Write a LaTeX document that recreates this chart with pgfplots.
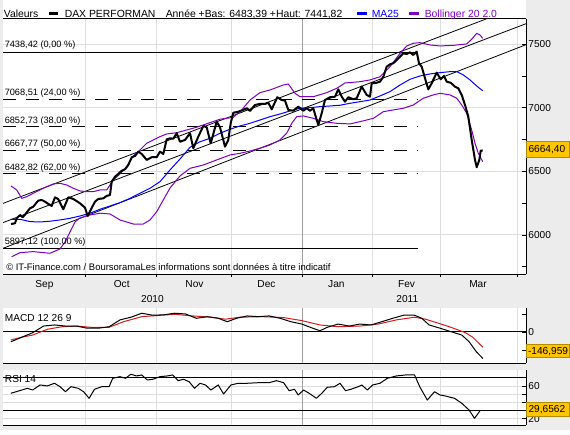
\documentclass[border=0pt]{standalone}
\usepackage{pgfplots}
\pgfplotsset{compat=1.18}
\usepackage{fontspec}
\setmainfont{Liberation Sans}
\definecolor{bg}{RGB}{236,236,236}
\definecolor{gridc}{RGB}{222,222,222}
\definecolor{yeargrid}{RGB}{160,160,160}
\definecolor{maBlue}{RGB}{0,0,255}
\definecolor{bolPurple}{RGB}{128,0,192}
\definecolor{sigRed}{RGB}{210,30,30}
\definecolor{boxYellow}{RGB}{255,198,0}
\newcommand{\fs}[1]{\fontsize{#1}{#1}\selectfont}
\pgfplotsset{
  panel/.style={
    scale only axis, width=392.25pt, xmin=3, xmax=526,
    anchor=south west,
    axis line style={draw=none},
    xtick={85.7,156,231,372,440,517}, xticklabels={},
    extra x ticks={302}, extra x tick labels={},
    extra x tick style={major grid style={yeargrid,line width=0.75pt}},
    xtick style={draw=none},
    xmajorgrids,
    grid style={gridc,line width=0.75pt},
    ytick pos=right, tick align=inside,
    major tick length=3pt, minor tick length=3pt,
    ytick style={black,line width=0.6pt},
    /pgf/number format/assume math mode=true,
    yticklabel style={font=\fs{7.6}, inner sep=0pt, xshift=1.6pt, /pgf/number format/1000 sep={}},
    every axis plot/.append style={line join=round},
  }
}
\begin{document}
\begin{tikzpicture}
\fill[bg] (0,0) rectangle (427.5pt,322.5pt);
\begin{scope}[x=0.75pt,y=-0.75pt,shift={(0pt,322.5pt)}]
  \fill[white] (3,0) rectangle (526,274);
  \fill[white] (3,308) rectangle (526,363);
  \fill[white] (3,370) rectangle (526,425);
\end{scope}

% ---------------- main price panel ----------------
\begin{axis}[panel, at={(2.25pt,117pt)}, height=191.25pt,
  ymin=5693, ymax=7698,
  ytick={6000,6500,7000,7500}, minor ytick={5750,6250,6750,7250},
  ymajorgrids]
% Fibonacci levels
\addplot[black, line width=0.75pt] coordinates {(3,7438.42) (418,7438.42)};
\addplot[black, line width=0.75pt, dash pattern=on 9.5pt off 7.75pt] coordinates {(3,7068.51) (418,7068.51)};
\addplot[black, line width=0.75pt, dash pattern=on 9.5pt off 7.75pt] coordinates {(3,6852.73) (418,6852.73)};
\addplot[black, line width=0.75pt, dash pattern=on 9.5pt off 7.75pt] coordinates {(3,6667.77) (418,6667.77)};
\addplot[black, line width=0.75pt, dash pattern=on 9.5pt off 7.75pt] coordinates {(3,6482.82) (418,6482.82)};
\addplot[black, line width=0.75pt] coordinates {(3,5897.12) (418,5897.12)};
% regression channel
\addplot[black, line width=0.6pt] coordinates {(3,6248) (527,7821)};
\addplot[black, line width=0.6pt] coordinates {(3,6097) (527,7664)};
\addplot[black, line width=0.6pt] coordinates {(3,5895) (527,7499)};
% Bollinger bands
\addplot[bolPurple, line width=0.75pt] coordinates {
(11,6385) (16.7,6354) (21.7,6288) (26.7,6301) (33.3,6328) (43.3,6367) (53.3,6401) (60,6406)
(66.7,6393) (73.3,6367) (80,6346) (86.7,6340) (93.3,6340) (100,6354) (106.7,6354) (113.3,6432)
(120,6480) (126.7,6537) (133.3,6621) (140,6668) (146.7,6721) (153.3,6747) (160,6773) (166.7,6794)
(176.7,6804) (196.7,6847) (220,6910) (233.3,6925) (241.7,6983) (250,7061) (260,7119) (270,7140)
(283.3,7179) (288.3,7187) (295,7114) (300,7087) (313.3,7087) (326.7,7119) (336.7,7153) (345,7195)
(360,7205) (370,7219) (380,7244) (390,7323) (400,7428) (406.7,7486) (413.3,7507) (420,7512)
(430,7494) (440,7486) (453.3,7491) (466.7,7502) (471.7,7539) (476.7,7586) (480,7572) (482.7,7546)};
\addplot[bolPurple, line width=0.75pt] coordinates {
(11.7,5829) (20,5861) (33.3,5869) (50,5856) (60,5890) (65,5945) (70,6024) (75,6102)
(80,6134) (90,6157) (100,6171) (110,6165) (120,6118) (133.3,6086) (143.3,6086) (150,6118)
(156.7,6183) (163.3,6275) (170,6369) (180,6464) (190,6524) (203.3,6550) (216.7,6590) (230,6629)
(240,6642) (250,6660) (260,6682) (270,6708) (280,6747) (286.7,6800) (291.7,6878) (296.7,6930)
(303.3,6936) (313.3,6917) (323.3,6891) (336.7,6878) (350,6873) (360,6891) (373.3,6917) (383.3,6969)
(393.3,6983) (403.3,6996) (413.3,7022) (423.3,7075) (433.3,7101) (440,7114) (450,7101) (456.7,7075)
(461.7,7022) (466.7,6957) (471.7,6825) (475,6721) (478.3,6642) (482.7,6576)};
% MA25
\addplot[maBlue, line width=0.75pt] coordinates {
(11,6123) (20,6123) (30,6105) (40,6102) (50,6108) (60,6118) (70,6131) (80,6149) (90,6171)
(100,6202) (110,6228) (120,6254) (130,6288) (140,6328) (150,6367) (160,6419) (170,6511)
(180,6597) (190,6689) (200,6733) (210,6760) (220,6800) (230,6831) (240,6857) (250,6878)
(260,6904) (270,6930) (280,6951) (290,6975) (300,6996) (310,7001) (320,7009) (330,7014)
(340,7020) (350,7035) (360,7048) (370,7061) (380,7093) (390,7127) (400,7179) (410,7224)
(420,7250) (430,7266) (440,7276) (450,7284) (456.7,7284) (463.3,7258) (470,7219) (476.7,7171)
(482.7,7134)};
% DAX close
\addplot[black, line width=1.5pt] coordinates {
(11,6086) (15,6092) (16.7,6131) (20,6157) (22.7,6139) (25,6160) (30,6210) (33.3,6222) (36,6249)
(38.3,6270) (41.7,6275) (45,6262) (48.3,6244) (51.7,6228) (55,6296) (58.3,6281) (63.3,6202)
(68.3,6296) (73.3,6283) (80,6249) (85,6215) (87.7,6149) (90.7,6197) (95,6262) (98.3,6283)
(103.3,6288) (106.7,6307) (110,6314) (111.7,6419) (115,6458) (118.3,6480) (121.7,6505)
(125,6516) (128.3,6550) (131.7,6611) (135,6621) (138.3,6655) (141.7,6637) (146.7,6590)
(151.7,6611) (156.7,6611) (160,6655) (163.3,6637) (166.7,6752) (170,6760) (173.3,6757)
(176.7,6800) (180,6733) (185,6747) (190,6800) (193.3,6682) (198.3,6773) (203.3,6857)
(206.7,6847) (210.7,6721) (216.7,6891) (220,6847) (225,6694) (228.3,6747) (230.7,6878)
(233.3,6961) (238.3,6969) (243.3,6983) (246.7,6996) (250,6975) (255,7022) (260,7030)
(265,7030) (268.3,7040) (271.7,6988) (277.3,7083) (281.7,7061) (285,7056) (288.3,6983)
(293.3,6977) (298.3,7009) (303.3,6977) (306.7,6996) (310,6977) (313.3,6996) (316.7,6904)
(318.3,6865) (321.7,6957) (325,7061) (330,7083) (335,7087) (338.3,7145) (341.7,7087)
(345,7048) (348.3,7083) (353.3,7067) (356.7,7075) (361.7,7166) (366.7,7101) (370,7087)
(371.7,7193) (375,7193) (380,7205) (383.3,7244) (386.7,7323) (390,7342) (393.3,7350)
(396.7,7376) (400,7402) (403.3,7428) (406.7,7423) (410,7436) (413.3,7415) (416.7,7441)
(419,7350) (421.7,7323) (425,7232) (428.3,7145) (431.7,7193) (436.7,7276) (440.7,7224)
(444,7250) (446.7,7205) (450.7,7197) (455,7166) (458.3,7153) (461.7,7101) (465,7022)
(468.3,6930) (471.7,6747) (475,6590) (476.7,6532) (479.3,6590) (480.7,6663) (482.7,6664.4)};
\end{axis}

% ---------------- MACD panel ----------------
\begin{axis}[panel, at={(2.25pt,50.25pt)}, height=41.25pt,
  ymin=-172, ymax=133,
  ytick={-100,0,100}, yticklabels={{},0,{}}]
\addplot[black, line width=0.75pt] coordinates {(3,0) (526,0)};
\addplot[sigRed, line width=0.75pt] coordinates {
(10.9,-44) (21.8,-29) (32.7,-17) (47.3,15) (61.8,29) (76.4,33) (90.9,26) (109.1,26) (123.6,57)
(141.8,85) (156.4,91) (174.5,98) (192.7,89) (210.9,82) (225.5,71) (240,82) (261.8,85) (283.6,80)
(301.8,63) (320,39) (338.2,29) (360,33) (378.2,44) (396.4,67) (414.5,82) (425.5,71) (436.4,52)
(450.9,26) (465.5,-4) (472.7,-29) (482.9,-85)};
\addplot[black, line width=0.75pt] coordinates {
(10.9,-54) (21.8,-29) (32.7,-4) (43.6,33) (54.5,39) (65.5,33) (76.4,33) (87.3,21) (98.2,21)
(109.1,29) (120,67) (130.9,82) (141.8,104) (152.7,93) (163.6,95) (174.5,104) (185.5,100)
(196.4,76) (207.3,85) (218.2,76) (227.3,57) (236.4,76) (247.3,89) (258.2,85) (269.1,89)
(280,76) (290.9,57) (301.8,44) (312.7,21) (320,7) (327.3,26) (338.2,44) (349.1,33) (360,44)
(370.9,39) (381.8,57) (392.7,76) (403.6,93) (414.5,93) (421.8,76) (429.1,39) (440,21)
(450.9,2) (461.8,-17) (469.1,-54) (476.4,-110) (482.9,-146.959)};
\end{axis}

% ---------------- RSI panel ----------------
\begin{axis}[panel, at={(2.25pt,3.75pt)}, height=41.25pt,
  ymin=12.2, ymax=79.8,
  ytick={20,60}, minor ytick={40,50},
  ymajorgrids, yminorgrids]
\addplot[black, line width=0.75pt] coordinates {(3,70) (526,70)};
\addplot[black, line width=0.75pt] coordinates {(3,30) (526,30)};
\addplot[black, line width=0.75pt] coordinates {
(10.9,51.2) (21.8,55.2) (27.3,57.3) (32.7,55.2) (40,61.4) (47.3,60.2) (54.5,63.5) (60,59.3)
(65.5,53.1) (70.9,59.3) (78.2,57.3) (83.6,53.1) (89.1,45.0) (94.5,56.1) (101.8,59.3)
(109.1,59.3) (112.7,69.6) (120,71.6) (125.5,69.6) (130.9,74.6) (136.4,72.5) (141.8,73.7)
(147.3,67.5) (152.7,68.4) (160,71.6) (167.3,72.5) (172.7,73.7) (178.2,66.7) (183.6,68.4)
(189.1,65.4) (194.5,57.3) (200,63.5) (205.5,61.4) (210.9,55.2) (218.2,61.4) (223.6,50.3)
(230.9,61.4) (238.2,63.5) (247.3,63.5) (258.2,64.2) (269.1,64.2) (276.4,66.7) (283.6,64.2)
(289.1,54.4) (294.5,56.1) (298.2,49.1) (303.6,55.2) (309.1,51.2) (316.4,45.0) (321.8,51.2)
(327.3,58.6) (334.5,59.3) (340,63.5) (345.5,54.4) (350.9,56.1) (358.2,59.3) (361.8,61.4)
(367.3,55.2) (372.7,61.4) (380,63.5) (387.3,69.6) (396.4,72.5) (405.5,73.7) (414.5,73.7)
(420,58.6) (427.3,42.9) (434.5,53.1) (440,49.1) (445.5,47.8) (454.5,45.0) (461.8,38.9)
(469.1,30.6) (474.5,20.4) (478.2,26.6) (480,29.6562)};
\end{axis}

% ---------------- frames, texts, value boxes ----------------
\begin{scope}[x=0.75pt,y=-0.75pt,shift={(0pt,322.5pt)}]
  \draw[black, line width=0.75pt] (3,19) -- (526,19);
  \draw[black, line width=0.75pt] (3,274) -- (526,274);
  \draw[black, line width=0.75pt] (526,19) -- (526,274);
  \draw[black, line width=0.75pt] (3,363) -- (526,363) (526,308) -- (526,363);
  \draw[black, line width=0.75pt] (3,425) -- (526,425) (526,370) -- (526,425);
  \foreach \xx in {85.7,156,231,302,372,440,517} {\draw[black, line width=0.6pt] (\xx,274) -- (\xx,276.5);}
  % legend row
  \begin{scope}[every node/.style={inner sep=0pt, anchor=base west, font=\fs{7.8}}]
    \node at (3.6,17.3) {Valeurs};
    \fill[black] (49,12.3) rectangle (58,15.5);
    \node at (64.5,17.3) {DAX PERFORMAN};
    \node at (165.5,17.3) {Année +Bas: 6483,39 +Haut: 7441,82};
    \fill[maBlue] (357,12.3) rectangle (366.5,15.5);
    \node[text=maBlue] at (371.5,17.3) {MA25};
    \fill[bolPurple] (409,12.3) rectangle (419,15.5);
    \node[text=bolPurple] at (424.5,17.3) {Bollinger 20 2.0};
  \end{scope}
  % Fibonacci labels
  \begin{scope}[every node/.style={inner sep=0pt, anchor=base west, font=\fs{6.9}}]
    \node at (4.5,47.5) {7438,42 (0,00 \%)};
    \node at (4.5,95.6) {7068,51 (24,00 \%)};
    \node at (4.5,123.1) {6852,73 (38,00 \%)};
    \node at (4.5,146.7) {6667,77 (50,00 \%)};
    \node at (4.5,170.2) {6482,82 (62,00 \%)};
    \node at (4.5,244.7) {5897,12 (100,00 \%)};
  \end{scope}
  \node[inner sep=0pt, anchor=base west, font=\fs{7.1}] at (6,270) {© IT-Finance.com / BoursoramaLes informations sont données à titre indicatif};
  % months and years
  \begin{scope}[every node/.style={inner sep=0pt, anchor=base, font=\fs{7.6}}]
    \node at (44.5,287.3) {Sep};
    \node at (121.7,287.3) {Oct};
    \node at (194.5,287.3) {Nov};
    \node at (266.5,287.3) {Dec};
    \node at (336.4,287.3) {Jan};
    \node at (406.5,287.3) {Fev};
    \node at (478,287.3) {Mar};
    \node at (152.5,302.5) {2010};
    \node at (407.3,302.5) {2011};
  \end{scope}
  \node[inner sep=0pt, anchor=base west, font=\fs{7.6}] at (4.7,321.5) {MACD 12 26 9};
  \node[inner sep=0pt, anchor=base west, font=\fs{7.6}] at (4.7,382.8) {RSI 14};
  % value boxes
  \begin{scope}[every node/.style={inner sep=0pt, anchor=base west, font=\fs{7.6}}]
    \filldraw[fill=boxYellow, draw=boxYellow!70!black, line width=0.4pt] (526.7,141.7) rectangle (569.6,157.7);
    \node at (528.3,153) {6664,40};
    \filldraw[fill=boxYellow, draw=boxYellow!70!black, line width=0.4pt] (526.7,344) rectangle (569.6,357.3);
    \node at (527.8,354.2) {-146,959};
    \filldraw[fill=boxYellow, draw=boxYellow!70!black, line width=0.4pt] (526.7,402.7) rectangle (569.6,416);
    \node at (528.3,412.9) {29,6562};
  \end{scope}
\end{scope}
\end{tikzpicture}
\end{document}
